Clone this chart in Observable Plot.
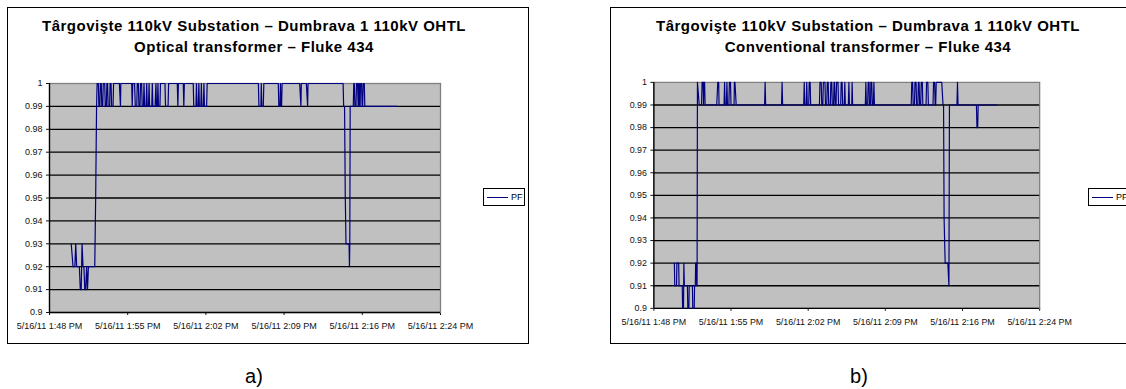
<!DOCTYPE html>
<html><head><meta charset="utf-8">
<script src="https://cdn.jsdelivr.net/npm/d3@7"></script>
<script src="https://cdn.jsdelivr.net/npm/@observablehq/plot@0.6"></script>
<style>
html,body{margin:0;padding:0;background:#fff;}
body{width:1126px;height:389px;overflow:hidden;position:relative;font-family:Arial,"Liberation Sans",sans-serif;color:#000;}
.box{position:absolute;top:7px;width:520px;height:335px;border:1px solid #000;}
.title{position:absolute;top:15px;font-weight:bold;font-size:15px;line-height:21px;letter-spacing:0.5px;text-align:center;white-space:nowrap;transform:translateX(-50%);}
.legend{position:absolute;top:188px;width:40px;height:16px;border:1px solid #000;background:#fff;font-size:9px;}
.legend .sw{position:absolute;left:3px;top:8px;width:21px;height:1px;background:#000080;}
.legend .lb{position:absolute;left:27px;top:3px;line-height:10px;}
.panel{position:absolute;top:0;}
.sub{position:absolute;top:366px;font-size:20px;line-height:20px;transform:translateX(-50%);}
</style></head>
<body>
<div class="box" style="left:7px"></div>
<div class="box" style="left:610px"></div>
<div class="panel" id="pa" style="left:0px"></div>
<div class="panel" id="pb" style="left:605px"></div>
<div class="title" id="ta" style="left:254px"></div>
<div class="title" id="tb" style="left:868px"></div>
<div class="legend" style="left:483px"><div class="sw"></div><div class="lb">PF</div></div>
<div class="legend" style="left:1088px"><div class="sw"></div><div class="lb">PF</div></div>
<div class="sub" style="left:254px">a)</div>
<div class="sub" style="left:859px">b)</div>
<script>
// ---- data ----
const titleA = ["Târgovişte 110kV Substation – Dumbrava 1 110kV OHTL", "Optical transformer – Fluke 434"];
const titleB = ["Târgovişte 110kV Substation – Dumbrava 1 110kV OHTL", "Conventional transformer – Fluke 434"];
const seriesName = "PF";
const xDomain = ["13:48:00", "14:24:00"];
const xTickTimes = ["13:48:00", "13:55:12", "14:02:24", "14:09:36", "14:16:48", "14:24:00"];
const xTickLabels = ["5/16/11 1:48 PM", "5/16/11 1:55 PM", "5/16/11 2:02 PM", "5/16/11 2:09 PM", "5/16/11 2:16 PM", "5/16/11 2:24 PM"];
const yTicks = [0.9, 0.91, 0.92, 0.93, 0.94, 0.95, 0.96, 0.97, 0.98, 0.99, 1];
const yTickLabels = ["0.9", "0.91", "0.92", "0.93", "0.94", "0.95", "0.96", "0.97", "0.98", "0.99", "1"];

// a) optical transformer
const timeA = ["13:50:00","13:50:10","13:50:20","13:50:25","13:50:30","13:50:45","13:50:50","13:50:55","13:51:00","13:51:05",
"13:51:10","13:51:15","13:51:20","13:51:25","13:51:30","13:51:35","13:52:10","13:52:15","13:52:20","13:52:23",
"13:52:30","13:52:33","13:52:38","13:52:41","13:52:46","13:52:49","13:52:54","13:52:57","13:53:05","13:53:08",
"13:53:14","13:53:17","13:53:21","13:53:24","13:53:32","13:53:35","13:53:40","13:53:43","13:53:51","13:53:54",
"13:54:26","13:54:32","13:54:34","13:55:34","13:55:37","13:55:40","13:55:50","13:55:54","13:56:02","13:56:05",
"13:56:11","13:56:14","13:56:20","13:56:23","13:56:29","13:56:32","13:56:39","13:56:42","13:56:46","13:56:54",
"13:56:57","13:57:00","13:57:07","13:57:10","13:57:13","13:57:25","13:57:28","13:57:31","13:57:43","13:57:48",
"13:57:51","13:57:56","13:57:59","13:58:02","13:58:10","13:58:13","13:58:38","13:58:41","13:58:55","13:58:58",
"13:59:46","13:59:49","13:59:52","14:00:19","14:00:22","14:00:25","14:01:14","14:01:17","14:01:29","14:01:32",
"14:01:35","14:01:42","14:01:45","14:01:48","14:01:56","14:01:59","14:02:02","14:02:10","14:02:13","14:02:16",
"14:02:28","14:02:31","14:07:14","14:07:17","14:07:28","14:07:30","14:07:33","14:07:41","14:07:44","14:09:04",
"14:09:07","14:09:13","14:09:16","14:09:19","14:09:22","14:09:25","14:11:02","14:11:09","14:11:11","14:11:39",
"14:11:46","14:11:48","14:15:02","14:15:05","14:15:10","14:15:14","14:15:18","14:15:35","14:15:37","14:15:39",
"14:15:41","14:15:58","14:16:01","14:16:04","14:16:07","14:16:13","14:16:16","14:16:22","14:16:25","14:16:27",
"14:16:29","14:16:32","14:16:34","14:16:36","14:16:38","14:16:44","14:16:47","14:16:50","14:16:53","14:16:59",
"14:17:02","14:20:00"];
const pfA = [0.93,0.92,0.92,0.93,0.92,0.92,0.91,0.91,0.93,0.92,
0.92,0.91,0.91,0.92,0.91,0.92,0.92,0.95,0.99,1,
1,0.99,0.99,1,1,0.99,0.99,1,1,0.99,
0.99,1,1,0.99,0.99,1,1,0.99,0.99,1,
1,0.99,1,1,0.99,1,1,0.99,0.99,1,
1,0.99,0.99,1,1,0.99,0.99,1,0.99,0.99,
1,0.99,0.99,1,0.99,0.99,1,0.99,0.99,1,
0.99,0.99,1,0.99,0.99,1,1,0.99,0.99,1,
1,0.99,1,1,0.99,1,1,0.99,0.99,1,
0.99,0.99,1,0.99,0.99,1,0.99,0.99,1,0.99,
0.99,1,1,0.99,0.99,1,0.99,0.99,1,1,
0.99,0.99,1,0.99,0.99,1,1,0.99,1,1,
0.99,1,1,0.99,0.99,0.95,0.93,0.93,0.92,0.93,
0.99,0.99,1,1,0.99,0.99,1,1,0.99,0.99,
1,1,0.99,0.99,1,1,0.99,0.99,1,1,
0.99,0.99];

// b) conventional transformer
const timeB = ["13:49:55","13:49:57","13:50:07","13:50:09","13:50:19","13:50:21","13:50:39","13:50:41","13:50:46","13:50:48",
"13:50:51","13:51:08","13:51:10","13:51:16","13:51:18","13:51:36","13:51:38","13:51:46","13:51:48","13:51:52",
"13:51:54","13:51:58","13:52:00","13:52:02","13:52:04","13:52:14","13:52:27","13:52:30","13:52:36","13:52:38",
"13:52:40","13:52:44","13:52:47","13:53:52","13:53:58","13:54:03","13:54:05","13:54:33","13:54:36","13:54:39",
"13:54:46","13:54:49","13:54:52","13:55:00","13:55:03","13:55:09","13:55:12","13:55:29","13:55:31","13:55:34",
"13:55:41","13:58:20","13:58:23","13:58:26","13:59:55","13:59:58","14:00:01","14:01:59","14:02:02","14:02:05",
"14:02:13","14:02:16","14:02:19","14:02:27","14:02:30","14:02:35","14:02:38","14:03:27","14:03:30","14:03:37",
"14:03:40","14:03:46","14:03:49","14:03:58","14:04:01","14:04:08","14:04:11","14:04:16","14:04:19","14:04:28",
"14:04:31","14:04:36","14:04:39","14:04:46","14:04:49","14:04:52","14:04:55","14:05:00","14:05:03","14:05:11",
"14:05:14","14:05:26","14:05:29","14:05:34","14:05:37","14:05:46","14:05:49","14:05:52","14:06:09","14:06:12",
"14:06:15","14:06:28","14:06:30","14:06:33","14:07:44","14:07:47","14:07:50","14:07:57","14:08:00","14:08:05",
"14:08:07","14:08:13","14:08:15","14:08:20","14:08:23","14:08:29","14:08:32","14:08:35","14:12:01","14:12:04",
"14:12:09","14:12:12","14:12:19","14:12:22","14:12:28","14:12:31","14:12:38","14:12:41","14:12:45","14:12:48",
"14:12:54","14:12:57","14:13:03","14:13:06","14:13:24","14:13:27","14:13:34","14:13:37","14:14:03","14:14:06",
"14:14:12","14:14:15","14:14:18","14:14:21","14:14:52","14:14:59","14:15:02","14:15:05","14:15:11","14:15:26",
"14:15:32","14:15:35","14:16:17","14:16:20","14:16:23","14:18:06","14:18:09","14:18:13","14:18:16","14:20:00"];
const pfB = [0.92,0.91,0.91,0.92,0.92,0.91,0.91,0.90,0.90,0.92,
0.91,0.91,0.90,0.90,0.91,0.91,0.90,0.90,0.91,0.91,
0.92,0.92,0.91,0.91,1,0.99,0.99,1,1,0.99,
1,1,0.99,0.99,1,1,0.99,0.99,1,0.99,
0.99,1,0.99,0.99,1,1,0.99,0.99,1,1,
0.99,0.99,1,0.99,0.99,1,0.99,0.99,1,0.99,
0.99,1,0.99,0.99,1,1,0.99,0.99,1,1,
0.99,0.99,1,1,0.99,0.99,1,1,0.99,0.99,
1,1,0.99,0.99,1,1,0.99,0.99,1,1,
0.99,0.99,1,1,0.99,0.99,1,0.99,0.99,1,
0.99,0.99,1,0.99,0.99,1,0.99,0.99,1,1,
0.99,0.99,1,1,0.99,0.99,1,0.99,0.99,1,
1,0.99,0.99,1,1,0.99,0.99,1,1,0.99,
0.99,1,1,0.99,0.99,1,1,0.99,0.99,1,
1,0.99,0.99,1,1,0.99,0.99,0.94,0.92,0.92,
0.91,0.99,0.99,1,0.99,0.99,0.98,0.98,0.99,0.99];

// ---- drawing ----
const parseT = s => new Date(`2011-05-16T${s}Z`);
const xTicks = xTickTimes.map(parseT);
const fmtX = d => xTickLabels[xTicks.findIndex(t => Math.abs(+t - +d) < 1000)];
const fmtY = d => yTickLabels[yTicks.findIndex(t => Math.abs(t - d) < 1e-6)];

function chart(times, pf) {
  const data = times.map((t, i) => ({t: parseT(t), v: pf[i]}));
  return Plot.plot({
    width: 528, height: 343,
    marginTop: 83, marginRight: 88, marginBottom: 31, marginLeft: 49,
    style: {background: "transparent", fontFamily: "Arial, 'Liberation Sans', sans-serif", fontSize: "9px", color: "#111", overflow: "visible"},
    x: {type: "utc", domain: xDomain.map(parseT), ticks: xTicks, tickFormat: fmtX, tickSize: 3, tickPadding: 7, label: null},
    y: {domain: [0.9, 1], ticks: yTicks, tickFormat: fmtY, tickSize: 3, tickPadding: 4, label: null},
    marks: [
      Plot.frame({fill: "#c0c0c0", stroke: "#808080", strokeWidth: 1.3}),
      Plot.ruleY(yTicks.slice(1, -1), {stroke: "#000", strokeWidth: 1.3}),
      Plot.ruleX([parseT(xDomain[0])], {stroke: "#000", strokeWidth: 1.3}),
      Plot.ruleY([0.9], {stroke: "#000", strokeWidth: 1.3}),
      Plot.line(data, {x: "t", y: "v", stroke: "#000080", strokeWidth: 1.2})
    ]
  });
}
document.getElementById("pa").appendChild(chart(timeA, pfA));
document.getElementById("pb").appendChild(chart(timeB, pfB));
document.getElementById("ta").innerHTML = titleA.join("<br>");
document.getElementById("tb").innerHTML = titleB.join("<br>");
document.querySelectorAll(".legend .lb").forEach(e => e.textContent = seriesName);
</script>
</body></html>
